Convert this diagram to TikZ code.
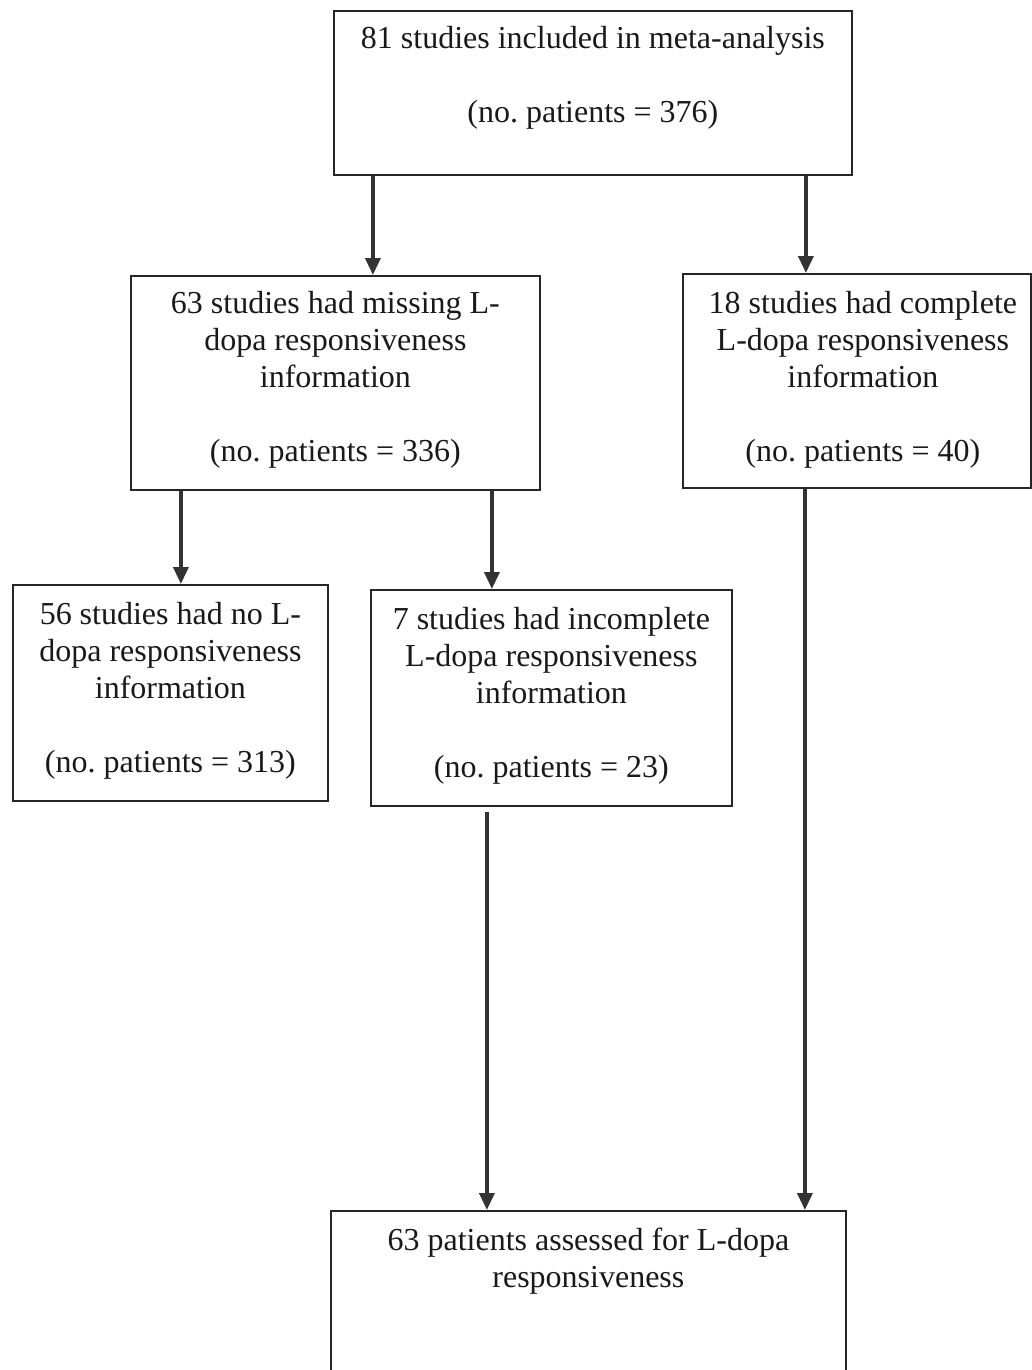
\documentclass[tikz,border=0pt]{standalone}
\usepackage{fontspec}
\setmainfont{Liberation Serif}
\usetikzlibrary{arrows.meta}

\tikzset{
  box/.style={draw=black!85, line width=1.8pt, anchor=north west, inner sep=0pt},
  txt/.style={align=center, anchor=base, inner sep=0pt, text=black!90,
    font=\fontsize{32}{37}\selectfont\frenchspacing},
  arr/.style={draw=black!80, line width=3.5pt,
    -{Triangle[length=17pt,width=15pt]}}
}

\begin{document}
\begin{tikzpicture}[x=1pt, y=-1pt]
  \useasboundingbox (0,0) rectangle (1032,1370);

  \node[box, minimum width=518pt, minimum height=164pt] (b1) at (333,10) {};
  \node[box, minimum width=409pt, minimum height=214pt] (b2) at (130,275) {};
  \node[box, minimum width=348pt, minimum height=214pt] (b3) at (682,273) {};
  \node[box, minimum width=315pt, minimum height=216pt] (b4) at (12,584) {};
  \node[box, minimum width=361pt, minimum height=216pt] (b5) at (370,589) {};
  \node[box, minimum width=515pt, minimum height=175pt] (b6) at (330,1210) {};

  % base anchor sits on the last line
  \node[txt] (t1) at ([yshift=-113pt]b1.north)
    {81 studies included in meta-analysis\\[37pt] (no. patients = 376)};
  \node[txt] (t2) at ([yshift=-186pt]b2.north)
    {63 studies had missing L-\\dopa responsiveness\\information\\[37pt] (no. patients = 336)};
  \node[txt] (t3) at ([xshift=6pt,yshift=-188pt]b3.north)
    {18 studies had complete\\L-dopa responsiveness\\information\\[37pt] (no. patients = 40)};
  \node[txt] (t4) at ([yshift=-188pt]b4.north)
    {56 studies had no L-\\dopa responsiveness\\information\\[37pt] (no. patients = 313)};
  \node[txt] (t5) at ([yshift=-188pt]b5.north)
    {7 studies had incomplete\\L-dopa responsiveness\\information\\[37pt] (no. patients = 23)};
  \node[txt] (t6) at ([yshift=-77pt]b6.north)
    {63 patients assessed for L-dopa\\responsiveness};

  \draw[arr] ([xshift=-220pt]b1.south) -- ([xshift=37.5pt]b2.north);
  \draw[arr] ([xshift=213pt]b1.south) -- ([xshift=-51pt]b3.north);
  \draw[arr] ([xshift=-154.5pt]b2.south) -- ([xshift=10.5pt]b4.north);
  \draw[arr] ([xshift=156.5pt]b2.south) -- ([xshift=-59.5pt]b5.north);
  \draw[arr] ([xshift=-64.5pt,yshift=-5pt]b5.south) -- ([xshift=-101.5pt]b6.north);
  \draw[arr] ([xshift=-52pt]b3.south) -- ([xshift=216.5pt]b6.north);
\end{tikzpicture}
\end{document}
